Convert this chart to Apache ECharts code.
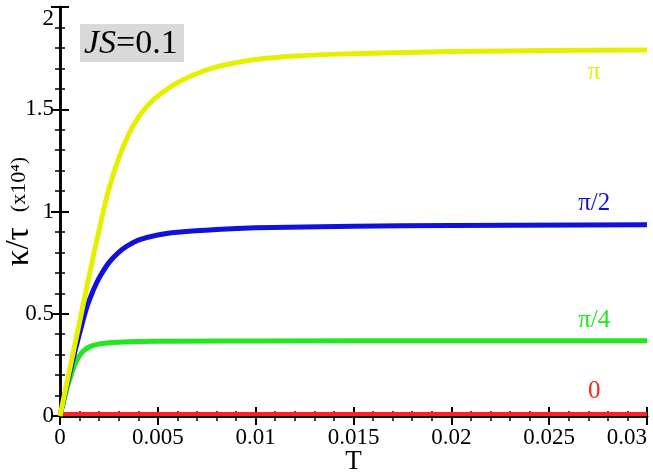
<!DOCTYPE html>
<html>
<head>
<meta charset="utf-8">
<script src="https://cdn.jsdelivr.net/npm/echarts@6/dist/echarts.min.js"></script>
<style>
  html, body { margin: 0; padding: 0; background: #fff; }
  #chart { width: 653px; height: 475px; }
</style>
</head>
<body>
<div id="chart"></div>
<script>
// thermal conductivity over temperature, JS=0.1, one curve per phase
const phaseNames = ["0", "π/4", "π/2", "π"];
const colors = ["#ff2222", "#22e622", "#1111dd", "#e4f000"];

const phase0 = [[0, 0.01], [0.005, 0.01], [0.01, 0.01], [0.015, 0.01], [0.02, 0.01], [0.025, 0.01], [0.03, 0.01]];
const phasePi4 = [[0, 0], [0.0002, 0.075], [0.0004, 0.15], [0.0006, 0.21], [0.0008, 0.26], [0.001, 0.295],
  [0.0012, 0.318], [0.0015, 0.338], [0.002, 0.352], [0.0025, 0.358], [0.003, 0.361], [0.004, 0.364],
  [0.006, 0.366], [0.01, 0.367], [0.02, 0.368], [0.03, 0.368]];
const phasePi2 = [[0, 0], [0.0004, 0.17], [0.0008, 0.33], [0.0011, 0.44], [0.0014, 0.54], [0.0017, 0.615],
  [0.002, 0.675], [0.0025, 0.75], [0.003, 0.80], [0.0035, 0.835], [0.004, 0.86], [0.005, 0.885],
  [0.006, 0.898], [0.008, 0.912], [0.01, 0.92], [0.015, 0.928], [0.02, 0.932], [0.03, 0.935]];
const phasePi = [[0, 0], [0.0005, 0.23], [0.001, 0.46], [0.0015, 0.69], [0.002, 0.91], [0.0025, 1.11],
  [0.003, 1.26], [0.0035, 1.375], [0.004, 1.46], [0.0045, 1.52], [0.005, 1.565], [0.006, 1.63],
  [0.007, 1.675], [0.008, 1.707], [0.009, 1.728], [0.01, 1.743], [0.012, 1.76], [0.015, 1.772],
  [0.02, 1.782], [0.025, 1.787], [0.03, 1.79]];

const xTicks = [0, 0.005, 0.01, 0.015, 0.02, 0.025, 0.03];
const yTicks = [0, 0.5, 1, 1.5, 2];

const serif = "'Liberation Serif', 'Times New Roman', serif";
const allData = [phase0, phasePi4, phasePi2, phasePi];
// where each phase name is written, in data units
const labelAt = [[0.0273, 0.12], [0.0273, 0.466], [0.0273, 1.04], [0.0273, 1.682]];

const chart = echarts.init(document.getElementById("chart"));

const frameAxis = {
  axisLine: { show: true, lineStyle: { color: "#000", width: 2.5 } },
  axisTick: { show: true, inside: true, length: 9, lineStyle: { color: "#000", width: 2 } },
  minorTick: { show: true, splitNumber: 5, length: 5, lineStyle: { color: "#000", width: 1.5 } },
  splitLine: { show: false },
};

const option = {
  animation: false,
  backgroundColor: "#fff",
  grid: { left: 60, right: 6, top: 7, bottom: 59, containLabel: false, outerBoundsMode: "none" },
  xAxis: [
    {
      type: "value",
      min: xTicks[0],
      max: xTicks[xTicks.length - 1],
      interval: 0.005,
      position: "bottom",
      name: "T",
      nameLocation: "middle",
      nameGap: 32,
      nameMoveOverlap: false,
      nameTextStyle: { fontFamily: serif, fontSize: 27, color: "#000" },
      ...frameAxis,
      axisLabel: {
        fontFamily: serif, fontSize: 23, color: "#000", margin: 10,
        alignMaxLabel: "right",
      },
    },
    {
      type: "value",
      min: xTicks[0],
      max: xTicks[xTicks.length - 1],
      interval: 0.005,
      position: "top",
      ...frameAxis,
      axisLabel: { show: false },
    },
  ],
  yAxis: [
    {
      type: "value",
      min: yTicks[0],
      max: yTicks[yTicks.length - 1],
      interval: 0.5,
      position: "left",
      name: "{a|κ/τ}  {b|(x10⁴)}",
      nameLocation: "middle",
      nameGap: 24,
      nameMoveOverlap: false,
      nameRotate: 90,
      nameTextStyle: {
        fontFamily: serif, fontSize: 30, color: "#000",
        rich: {
          a: { fontFamily: serif, fontSize: 33, color: "#000" },
          b: { fontFamily: serif, fontSize: 22, color: "#000" },
        },
      },
      ...frameAxis,
      axisLabel: {
        fontFamily: serif, fontSize: 23, color: "#000", margin: 6,
        verticalAlignMaxLabel: "top",
      },
    },
    {
      type: "value",
      min: yTicks[0],
      max: yTicks[yTicks.length - 1],
      interval: 0.5,
      position: "right",
      ...frameAxis,
      axisLabel: { show: false },
    },
  ],
  series: allData.map((d, i) => ({
    name: phaseNames[i],
    type: "line",
    data: d,
    smooth: 0.4,
    showSymbol: false,
    symbol: "none",
    z: 3 + i,
    lineStyle: { color: colors[i], width: i === 0 ? 4 : 5 },
    markPoint: {
      symbol: "circle",
      symbolSize: 0,
      data: [{
        coord: labelAt[i],
        label: {
          show: true, position: "inside", formatter: phaseNames[i],
          fontFamily: serif, fontSize: 25, color: colors[i],
        },
      }],
    },
  })),
  graphic: [
    {
      type: "rect",
      shape: { x: 80, y: 24, width: 104, height: 38 },
      style: { fill: "#d9d9d9" },
      z: 10,
    },
    {
      type: "text",
      x: 84,
      y: 44,
      z: 11,
      style: {
        text: "{i|JS}{r|=0.1}",
        verticalAlign: "middle",
        rich: {
          i: { fontFamily: serif, fontStyle: "italic", fontSize: 34, fill: "#000" },
          r: { fontFamily: serif, fontSize: 34, fill: "#000" },
        },
      },
    },
  ],
};

chart.setOption(option);
window.addEventListener("resize", chart.resize);
</script>
</body>
</html>
